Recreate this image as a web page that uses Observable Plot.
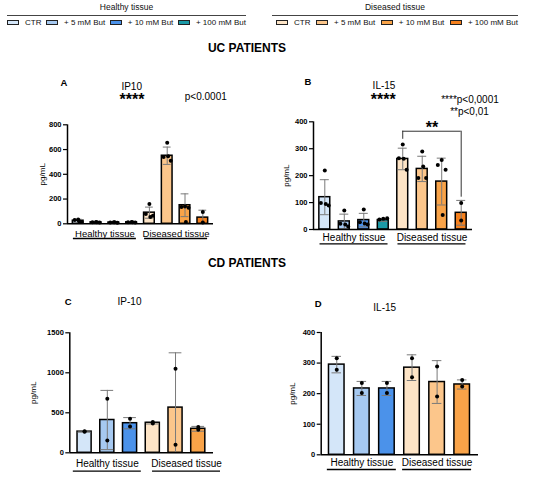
<!DOCTYPE html>
<html><head><meta charset="utf-8">
<script src="https://cdn.jsdelivr.net/npm/d3@7"></script>
<script src="https://cdn.jsdelivr.net/npm/@observablehq/plot@0.6"></script>
<style>
body{margin:0;background:#fff;font-family:"Liberation Sans",Arial,sans-serif;}
#root{position:relative;width:550px;height:479px;overflow:hidden;background:#fff;}
.abs{position:absolute;white-space:nowrap;line-height:1;transform:translate(-50%,-50%);color:#000;}
.plot{position:absolute;overflow:visible;}
.lg{position:absolute;top:0;}
.lg .hd{position:absolute;left:0;right:0;top:3px;text-align:center;font-size:8.5px;line-height:9px;color:#111;}
.lg .ln{position:absolute;left:0;right:0;top:15px;border-top:1px solid #444;}
.lg .row{position:absolute;left:0;right:0;top:18px;height:9px;display:flex;justify-content:space-between;align-items:center;font-size:8px;color:#111;}
.lg .it{display:flex;align-items:center;gap:6px;}
.lg .sw{display:inline-block;width:10px;height:3px;border:1px solid #222;}
</style></head><body><div id="root"></div><script>
// ---------- shared categories ----------
const tissues = ["Healthy tissue", "Diseased tissue"];
const treatments = ["CTR", "+ 5 mM But", "+ 10 mM But", "+ 100 mM But"];
const healthyColors = ["#d4e6f9", "#a6c9f1", "#4b92ea", "#1b9aa7"];
const diseasedColors = ["#fde4c6", "#fcc68b", "#f9a348", "#f5801d"];

// ---------- A: UC IP10 (pg/mL) ----------
const ucIp10Means = [25, 12, 10, 12, 90, 550, 150, 50];
const ucIp10Sd = [12, 6, 5, 5, 45, 70, 92, 60];
const ucIp10Points = [[35, 30, 15, 20], [15, 12, 10, 12], [12, 10, 8, 12], [14, 12, 10, 12],
  [160, 80, 65, 55], [655, 540, 510, 545], [140, 135, 130, 15], [95, 10]];
const ucIp10Ticks = [0, 200, 400, 600, 800];

// ---------- B: UC IL-15 ----------
const ucIl15Means = [120, 30, 35, 35, 262, 225, 178, 62];
const ucIl15Sd = [65, 27, 25, 5, 40, 47, 87, 46];
const ucIl15Points = [[219, 98, 89, 95], [71, 21, 11, 19], [74, 27, 19, 22], [40, 37, 42],
  [316, 265, 222, 263], [290, 191, 191, 234], [258, 240, 222, 54], [98, 33]];
const ucIl15Ticks = [0, 100, 200, 300, 400];
const ucIl15Bracket = {from: 4, to: 7, y: 365, leftEnd: 335, rightEnd: 120, label: "**"};

// ---------- C: CD IP-10 ----------
const cdIp10Means = [265, 410, 370, 375, 565, 300];
const cdIp10Sd = [8, 370, 70, 15, 685, 30];
const cdIp10Points = [[262, 270], [675, 154], [425, 329], [365, 385], [1050, 100], [321, 287]];
const cdIp10Ticks = [0, 500, 1000, 1500];

// ---------- D: CD IL-15 ----------
const cdIl15Means = [295, 217, 217, 285, 238, 230];
const cdIl15Sd = [27, 23, 23, 42, 70, 15];
const cdIl15Points = [[316, 278], [235, 202], [235, 202], [316, 254], [289, 191], [245, 223]];
const cdIl15Ticks = [0, 100, 200, 300, 400];

const root = document.getElementById("root");

function txt(s, cx, cy, size, weight) {
  const d = document.createElement("div");
  d.className = "abs";
  d.textContent = s;
  d.style.left = cx + "px"; d.style.top = cy + "px";
  d.style.fontSize = size + "px";
  if (weight) d.style.fontWeight = weight;
  root.appendChild(d);
}

function legend(title, colors, left, width, padLeft) {
  const g = document.createElement("div");
  g.className = "lg";
  g.style.left = left + "px"; g.style.width = width + "px";
  g.innerHTML = `<div class="hd">${title}</div><div class="ln"></div>` +
    `<div class="row" style="padding-left:${padLeft}px">` +
    treatments.map((t, i) => `<div class="it"><span class="sw" style="background:${colors[i]}"></span><span>${t}</span></div>`).join("") +
    `</div>`;
  root.appendChild(g);
}

function panel(cfg) {
  const n = cfg.means.length / 2;
  const rows = cfg.means.map((m, i) => ({i, mean: m, sd: cfg.sds[i],
    color: i < n ? healthyColors[i] : diseasedColors[i - n]}));
  const pts = cfg.points.flatMap((arr, i) => arr.map((v, k) => ({i, v, k, n: arr.length})));
  const span = cfg.domain[1] - cfg.domain[0];
  const ppu = (cfg.width - cfg.mL - cfg.mR) / span;
  const halfU = cfg.underlinePx / 2 / ppu;
  const shifts = cfg.labelShiftPx || [0, 0];
  const groupRows = tissues.map((t, g) => ({t, c: g * n + (n - 1) / 2 + shifts[g] / ppu}));
  const spread = d => d.n >= 3 ? [0, -0.2, 0.2, 0.05][d.k % 4] : 0;
  const gray = "#7a7a7a";
  const marks = [
    Plot.rectY(rows, {x1: d => d.i - cfg.barHalf, x2: d => d.i + cfg.barHalf, y1: 0, y2: "mean",
      fill: "color", stroke: "black", strokeWidth: 1.5}),
    Plot.ruleX(rows, {x: "i", y1: d => Math.max(0, d.mean - d.sd), y2: d => d.mean + d.sd, stroke: gray, strokeWidth: 1}),
    Plot.ruleY(rows, {y: d => d.mean + d.sd, x1: d => d.i - cfg.capHalf, x2: d => d.i + cfg.capHalf, stroke: gray, strokeWidth: 1}),
    Plot.ruleY(rows.filter(d => d.mean - d.sd > 0), {y: d => d.mean - d.sd, x1: d => d.i - cfg.capHalf, x2: d => d.i + cfg.capHalf, stroke: gray, strokeWidth: 1}),
    Plot.dot(pts, {x: d => d.i + spread(d), y: "v", r: 2, fill: "black", stroke: "none"}),
    Plot.ruleY([0], {stroke: "black", strokeWidth: 1.5}),
    Plot.ruleX([cfg.domain[0]], {y1: 0, y2: cfg.ticks[cfg.ticks.length - 1], stroke: "black", strokeWidth: 1.5}),
    Plot.axisY(cfg.ticks, {tickSize: 4, tickPadding: 2, tickFormat: d => String(d), fontWeight: "bold", fontSize: 7.5, label: null, strokeWidth: 1.2}),
    Plot.text(["pg/mL"], {text: d => d, frameAnchor: "left", rotate: -90, dx: cfg.pgDx, fontSize: 8,
      textAnchor: "middle", lineAnchor: "middle"}),
    Plot.text(groupRows, {x: "c", y: 0, text: "t", dy: cfg.textDy, fontSize: cfg.labelSize, lineAnchor: "middle"}),
    Plot.ruleY(groupRows, {y: 0, x1: d => d.c - halfU, x2: d => d.c + halfU, dy: cfg.lineDy, stroke: "black", strokeWidth: 1.3})
  ];
  if (cfg.bracket) {
    const b = [cfg.bracket];
    marks.push(
      Plot.ruleY(b, {y: "y", x1: "from", x2: "to", stroke: "#333", strokeWidth: 1}),
      Plot.ruleX(b, {x: "from", y1: "leftEnd", y2: "y", stroke: "#333", strokeWidth: 1}),
      Plot.ruleX(b, {x: "to", y1: "rightEnd", y2: "y", stroke: "#333", strokeWidth: 1}),
      Plot.text(b, {x: d => (d.from + d.to) / 2, y: "y", text: "label", dy: -3, fontSize: 16, fontWeight: "bold", lineAnchor: "middle"})
    );
  }
  const svg = Plot.plot({
    width: cfg.width, height: cfg.height,
    marginLeft: cfg.mL, marginRight: cfg.mR, marginTop: cfg.mT, marginBottom: cfg.mB,
    x: {domain: cfg.domain, axis: null},
    y: {domain: [0, cfg.ticks[cfg.ticks.length - 1]], axis: null},
    color: {type: "identity"},
    style: {fontFamily: "'Liberation Sans', Arial, sans-serif", fontSize: "8px", color: "black", background: "transparent", overflow: "visible"},
    marks
  });
  svg.classList.add("plot");
  svg.style.left = cfg.left + "px"; svg.style.top = cfg.top + "px";
  root.appendChild(svg);
}

// legend
legend("Healthy tissue", healthyColors, 7, 239, 0);
legend("Diseased tissue", diseasedColors, 272, 246, 4);

// section headings
txt("UC PATIENTS", 247, 48, 12, "bold");
txt("CD PATIENTS", 247, 263, 12, "bold");

// Panel A
panel({left: 0, top: 80, width: 275, height: 170, mL: 67, mR: 62, mT: 44.3, mB: 26.7,
  domain: [-0.6, 7.6], means: ucIp10Means, sds: ucIp10Sd, points: ucIp10Points, ticks: ucIp10Ticks,
  barHalf: 0.3, capHalf: 0.22, underlinePx: 63, textDy: 9.7, lineDy: 14.7, labelSize: 9.5, pgDx: -25});
txt("A", 64, 83, 9.5, "bold");
txt("IP10", 131.7, 86.5, 10);
txt("****", 132, 100, 16, "bold");
txt("p<0.0001", 205.8, 97, 10);

// Panel B
panel({left: 275, top: 80, width: 275, height: 170, mL: 38, mR: 78, mT: 41.3, mB: 21,
  domain: [-0.58, 7.58], means: ucIl15Means, sds: ucIl15Sd, points: ucIl15Points, ticks: ucIl15Ticks,
  barHalf: 0.28, capHalf: 0.23, underlinePx: 68, textDy: 8, lineDy: 14.3, labelSize: 10, pgDx: -27,
  bracket: ucIl15Bracket});
txt("B", 308, 82, 9.5, "bold");
txt("IL-15", 384, 85.5, 10);
txt("****", 383.3, 99.5, 16, "bold");
txt("****p<0,0001", 470, 100, 10);
txt("**p<0,01", 469.5, 112.3, 10);

// Panel C
panel({left: 0, top: 280, width: 275, height: 199, mL: 69.3, mR: 62, mT: 52.3, mB: 26.7,
  domain: [-0.65, 5.67], means: cdIp10Means, sds: cdIp10Sd, points: cdIp10Points, ticks: cdIp10Ticks,
  barHalf: 0.31, capHalf: 0.28, underlinePx: 68, textDy: 10.7, lineDy: 18.4, labelSize: 10, pgDx: -36,
  labelShiftPx: [0, 11]});
txt("C", 68.3, 301.7, 9.5, "bold");
txt("IP-10", 129.5, 301.7, 10);

// Panel D
panel({left: 275, top: 280, width: 275, height: 199, mL: 45.7, mR: 72, mT: 52, mB: 24.7,
  domain: [-0.62, 5.65], means: cdIl15Means, sds: cdIl15Sd, points: cdIl15Points, ticks: cdIl15Ticks,
  barHalf: 0.31, capHalf: 0.19, underlinePx: 69, textDy: 8.4, lineDy: 14.7, labelSize: 10, pgDx: -28.4});
txt("D", 318.3, 304, 9.5, "bold");
txt("IL-15", 384.7, 308.3, 10);
</script></body></html>
